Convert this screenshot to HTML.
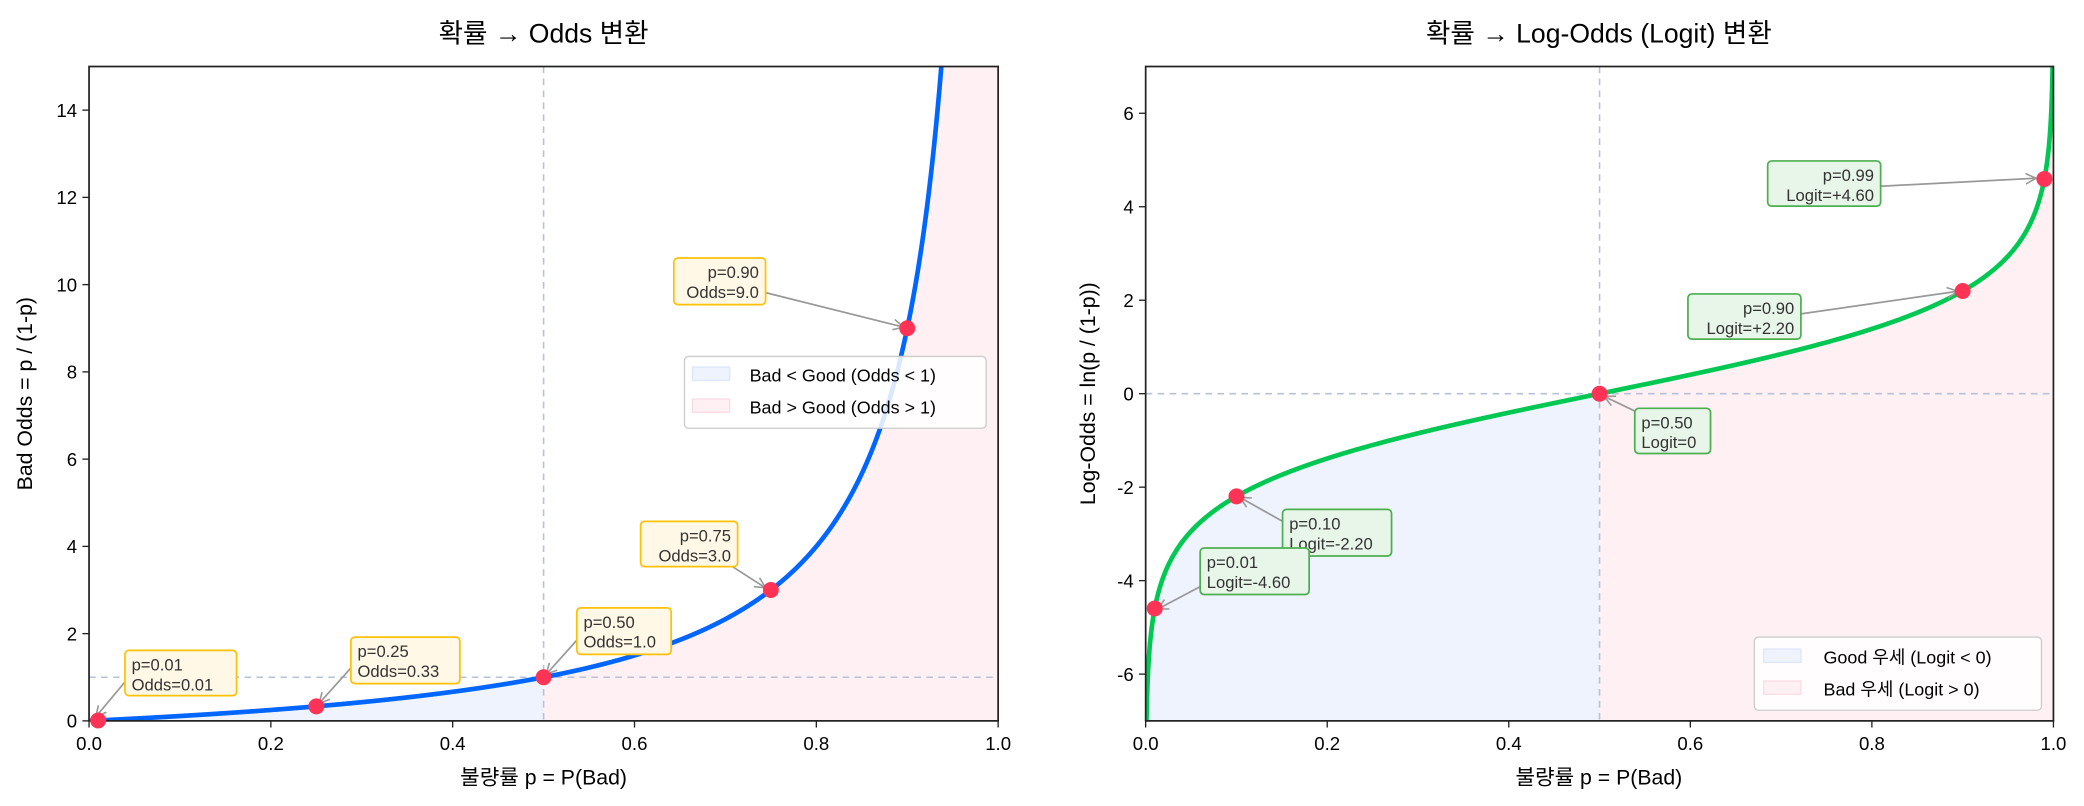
<!DOCTYPE html>
<html><head><meta charset="utf-8"><style>
html,body{margin:0;padding:0;background:#fff;overflow:hidden}
svg{display:block;font-family:"Liberation Sans","Noto Sans CJK KR",sans-serif}
.t{font-size:14px;fill:#000}
.ann{font-size:12.5px;fill:#333}
</style></head><body>
<svg id="s" width="2084" height="806" viewBox="0 0 1568 606" preserveAspectRatio="none" xmlns="http://www.w3.org/2000/svg">
<defs>
<marker id="ar" markerWidth="10" markerHeight="10" refX="8" refY="5" orient="auto" markerUnits="userSpaceOnUse"><path d="M0,1 L8,5 L0,9" fill="none" stroke="#999" stroke-width="1.2"/></marker>
<clipPath id="cl"><rect x="67" y="50" width="684" height="492"/></clipPath>
<clipPath id="cr"><rect x="862" y="50" width="683" height="492"/></clipPath>
</defs>
<rect width="1568" height="606" fill="#fff"/>
<text x="409" y="32" text-anchor="middle" font-size="20">확률 → Odds 변환</text>
<g clip-path="url(#cl)">
<path id="lb" fill="#eef3fd"/>
<path id="lr" fill="#fff0f3"/>
<line x1="409" y1="50" x2="409" y2="542" stroke="#b8c2d6" stroke-dasharray="5,4" stroke-width="1.2"/>
<line x1="67" y1="509.2" x2="751" y2="509.2" stroke="#b8c2d6" stroke-dasharray="5,4" stroke-width="1.2"/>
<path id="lc" fill="none" stroke="#0066ff" stroke-width="3.5"/>
</g>
<rect x="67" y="50" width="684" height="492" fill="none" stroke="#222" stroke-width="1.3"/>
<g id="lt"></g>
<text x="409" y="590" text-anchor="middle" font-size="16">불량률 p = P(Bad)</text>
<text transform="translate(24,296) rotate(-90)" text-anchor="middle" font-size="16">Bad Odds = p / (1-p)</text>
<rect x="515" y="268" width="227" height="54" rx="3" fill="#fff" fill-opacity="0.85" stroke="#ccc"/>
<rect x="521" y="276" width="28" height="10" fill="#eef3fd" stroke="#dde6fa"/>
<text x="564" y="287" font-size="13.5">Bad &lt; Good (Odds &lt; 1)</text>
<rect x="521" y="300" width="28" height="10" fill="#fff0f3" stroke="#fadde4"/>
<text x="564" y="311" font-size="13.5">Bad &gt; Good (Odds &gt; 1)</text>
<text x="1203" y="32" text-anchor="middle" font-size="20">확률 → Log-Odds (Logit) 변환</text>
<g clip-path="url(#cr)">
<path id="rb" fill="#eef3fd"/>
<path id="rr" fill="#fff0f3"/>
<line x1="1203.5" y1="50" x2="1203.5" y2="542" stroke="#b8c2d6" stroke-dasharray="5,4" stroke-width="1.2"/>
<line x1="862" y1="296" x2="1545" y2="296" stroke="#b8c2d6" stroke-dasharray="5,4" stroke-width="1.2"/>
<path id="rc" fill="none" stroke="#00c853" stroke-width="3.5"/>
</g>
<rect x="862" y="50" width="683" height="492" fill="none" stroke="#222" stroke-width="1.3"/>
<g id="rt"></g>
<text x="1203" y="590" text-anchor="middle" font-size="16">불량률 p = P(Bad)</text>
<text transform="translate(824,296) rotate(-90)" text-anchor="middle" font-size="16">Log-Odds = ln(p / (1-p))</text>
<rect x="1320" y="479" width="216" height="55" rx="3" fill="#fff" fill-opacity="0.85" stroke="#ccc"/>
<rect x="1327" y="488" width="28" height="10" fill="#eef3fd" stroke="#dde6fa"/>
<text x="1372" y="499" font-size="13.5">Good 우세 (Logit &lt; 0)</text>
<rect x="1327" y="512" width="28" height="10" fill="#fff0f3" stroke="#fadde4"/>
<text x="1372" y="523" font-size="13.5">Bad 우세 (Logit &gt; 0)</text>
<g id="ann"></g>
</svg>
<script>
var NS="http://www.w3.org/2000/svg";
function el(p,tag,a,txt){var e=document.createElementNS(NS,tag);for(var k in a)e.setAttribute(k,a[k]);if(txt!=null)e.textContent=txt;document.getElementById(p).appendChild(e);return e;}
function LX(p){return 67+p*684} function LY(o){return 542-o*32.8}
function RX(p){return 862+p*683} function RY(l){return 296-l*35.14}
var c="",b="M"+LX(0)+","+LY(0),r="M"+LX(0.5)+","+LY(0);
for(var i=0;i<=2000;i++){var p=i/2000*0.96;var o=p/(1-p);if(o>16)o=16;c+=(i?"L":"M")+LX(p).toFixed(2)+","+LY(o).toFixed(2);
 if(p<=0.5)b+="L"+LX(p).toFixed(2)+","+LY(o).toFixed(2);}
b+="L"+LX(0.5)+","+LY(1)+"L"+LX(0.5)+","+LY(0)+"Z";
for(var i=0;i<=1000;i++){var p=0.5+i/1000*0.5;var o=Math.min(p/(1-p),16);r+="L"+LX(p).toFixed(2)+","+LY(o).toFixed(2);}
r+="L"+LX(1)+","+LY(0)+"Z";
document.getElementById("lc").setAttribute("d",c);document.getElementById("lb").setAttribute("d",b);document.getElementById("lr").setAttribute("d",r);
c="";b="M"+RX(0)+","+RY(-7);r="M"+RX(0.5)+","+RY(-7);
for(var i=0;i<=2000;i++){var p=0.0008+i/2000*(0.9992-0.0008);var l=Math.log(p/(1-p));c+=(i?"L":"M")+RX(p).toFixed(2)+","+RY(l).toFixed(2);
 if(p<=0.5)b+="L"+RX(p).toFixed(2)+","+RY(l).toFixed(2); else r+="L"+RX(p).toFixed(2)+","+RY(l).toFixed(2);}
b+="L"+RX(0.5)+","+RY(0)+"L"+RX(0.5)+","+RY(-7)+"Z";
r+="L"+RX(1)+","+RY(7)+"L"+RX(1)+","+RY(-7)+"Z";
document.getElementById("rc").setAttribute("d",c);document.getElementById("rb").setAttribute("d",b);document.getElementById("rr").setAttribute("d",r);
for(var i=0;i<=5;i++){var v=i*0.2;var x=LX(v);el("lt","line",{x1:x,y1:542,x2:x,y2:547,stroke:"#222"});el("lt","text",{x:x,y:564,"text-anchor":"middle","class":"t"},v.toFixed(1));
 x=RX(v);el("rt","line",{x1:x,y1:542,x2:x,y2:547,stroke:"#222"});el("rt","text",{x:x,y:564,"text-anchor":"middle","class":"t"},v.toFixed(1));}
for(var v=0;v<=14;v+=2){var y=LY(v);el("lt","line",{x1:62,y1:y,x2:67,y2:y,stroke:"#222"});el("lt","text",{x:58,y:y+5,"text-anchor":"end","class":"t"},v);}
for(var v=-6;v<=6;v+=2){var y=RY(v);el("rt","line",{x1:857,y1:y,x2:862,y2:y,stroke:"#222"});el("rt","text",{x:853,y:y+5,"text-anchor":"end","class":"t"},v);}
function ann(bx,by,bw,bh,al,l1,l2,ax1,ay1,ax2,ay2,fill,stroke){
 el("ann","line",{x1:ax1,y1:ay1,x2:ax2,y2:ay2,stroke:"#999","stroke-width":1.3,"marker-end":"url(#ar)"});
 el("ann","rect",{x:bx,y:by,width:bw,height:bh,rx:3,fill:fill,stroke:stroke,"stroke-width":1.3});
 var tx=al=="end"?bx+bw-5:bx+5;
 el("ann","text",{x:tx,y:by+15,"text-anchor":al,"class":"ann"},l1);
 el("ann","text",{x:tx,y:by+30,"text-anchor":al,"class":"ann"},l2);}
var Y1="#fff8e6",Y2="#ffc107",G1="#e8f5e9",G2="#4caf50";
ann(94,489,84,34,"start","p=0.01","Odds=0.01",98,508,72,539,Y1,Y2);
ann(264,479,82,35,"start","p=0.25","Odds=0.33",266,500,240,529,Y1,Y2);
ann(434,457,71,35,"start","p=0.50","Odds=1.0",437,478,411,507,Y1,Y2);
ann(482,392,73,34,"end","p=0.75","Odds=3.0",548,424,576,442,Y1,Y2);
ann(507,194,69,35,"end","p=0.90","Odds=9.0",576,220,680,246,Y1,Y2);
ann(1330,121,85,34,"end","p=0.99","Logit=+4.60",1415,140,1532,134,G1,G2);
ann(1270,221,85,34,"end","p=0.90","Logit=+2.20",1355,236,1473,219,G1,G2);
ann(1230,307,57,34,"start","p=0.50","Logit=0",1232,310,1207,298,G1,G2);
ann(965,383,82,35,"start","p=0.10","Logit=-2.20",965,392,933,374,G1,G2);
ann(903,412,82,35,"start","p=0.01","Logit=-4.60",905,440,871,458,G1,G2);
[0.01,0.25,0.5,0.75,0.9].forEach(function(p){el("ann","circle",{cx:LX(p),cy:LY(p/(1-p)),r:6,fill:"#ff3355"});});
[0.01,0.1,0.5,0.9,0.99].forEach(function(p){el("ann","circle",{cx:RX(p),cy:RY(Math.log(p/(1-p))),r:6,fill:"#ff3355"});});
</script>
</body></html>
